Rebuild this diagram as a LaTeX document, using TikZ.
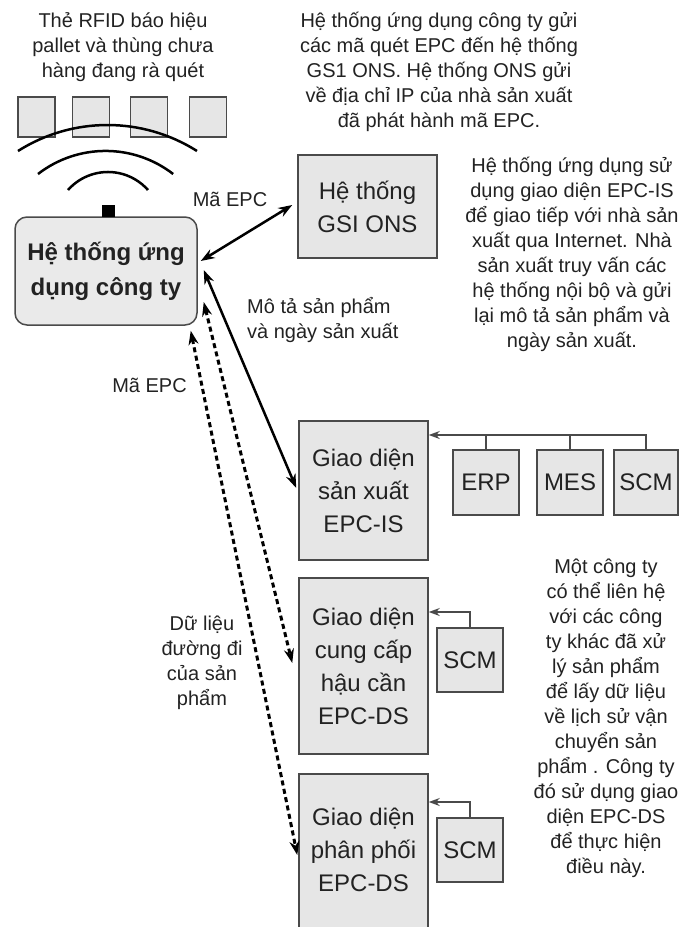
\documentclass[tikz,border=0pt]{standalone}
\usepackage{fontspec}
\setmainfont{Liberation Sans}
\usetikzlibrary{arrows.meta,calc}
\definecolor{boxfill}{HTML}{E6E6E6}
\definecolor{boxline}{HTML}{4A4A4A}
\definecolor{txt}{HTML}{222222}
\newcommand{\notefont}{\fontsize{20}{25}\selectfont}
\newcommand{\boxfont}{\fontsize{24}{33}\selectfont}
\newcommand{\mainboxfont}{\fontsize{24}{35}\selectfont\bfseries}
\begin{document}
\begin{tikzpicture}[x=1pt,y=-1pt,
  box/.style={draw=boxline, fill=boxfill, line width=1.5pt, align=center, inner sep=0pt, font=\boxfont, text=txt},
  tag/.style={draw=boxline, fill=boxfill, line width=1.3pt, inner sep=0pt, minimum width=37pt, minimum height=40pt},
  note/.style={align=center, font=\notefont, text=txt, inner sep=0pt},
  dbl/.style={{Stealth[length=14pt,width=10pt]}-{Stealth[length=14pt,width=10pt]}, line width=2.5pt, draw=black},
  dsh/.style={dbl, line width=3pt, dash pattern=on 5pt off 3.5pt},
  conn/.style={line width=1.4pt, draw=boxline},
  connarr/.style={conn, -{Stealth[length=11pt,width=8pt]}},
  wave/.style={line width=2.5pt, draw=black}
]
\useasboundingbox (0,0) rectangle (680,927);

% RFID tags
\node[tag] (tag1) at (36.5,117) {};
\node[tag] (tag2) at (91,117) {};
\node[tag] (tag3) at (149,117) {};
\node[tag] (tag4) at (208,117) {};

% waves
\draw[wave] (18,151) arc[start angle=-122.4, end angle=-57.6, radius=167];
\draw[wave] (38,174) arc[start angle=-127.7, end angle=-52.3, radius=110.5];
\draw[wave] (68,190) arc[start angle=-138.5, end angle=-41.5, radius=53.4];

% main box
\node[box, rounded corners=12pt, minimum width=182pt, minimum height=108pt, font=\mainboxfont, fill=boxfill!85!white] (main) at (106,271) {Hệ thống ứng\\dụng công ty};
\node[fill=black, inner sep=0pt, minimum width=13pt, minimum height=12pt] (ant) at (108.5,211) {};

% other boxes
\node[box, minimum width=139pt, minimum height=103pt] (gsi) at (367.5,206.5) {Hệ thống\\GSI ONS};
\node[box, minimum width=129pt, minimum height=139pt] (epcis) at (363.5,490.5) {Giao diện\\sản xuất\\EPC-IS};
\node[box, minimum width=129pt, minimum height=176pt] (log) at (363.5,666) {Giao diện\\cung cấp\\hậu cần\\EPC-DS};
\node[box, minimum width=129pt, minimum height=200pt] (dist) at (363.5,874) {};
\node[note, font=\boxfont] (distt) at (363.5,850) {Giao diện\\phân phối\\EPC-DS};

\node[box, minimum width=66pt, minimum height=65pt] (erp) at (486,482.5) {ERP};
\node[box, minimum width=66pt, minimum height=65pt] (mes) at (570,482.5) {MES};
\node[box, minimum width=64pt, minimum height=65pt] (scma) at (646,482.5) {SCM};
\node[box, minimum width=66pt, minimum height=64pt] (scmb) at (470,660) {SCM};
\node[box, minimum width=66pt, minimum height=64pt] (scmc) at (470,850) {SCM};

% system connectors
\coordinate (busR) at (646,435);
\draw[connarr] (scma.north) |- (epcis.east |- busR);
\draw[conn] (erp.north) -- (erp.north |- busR);
\draw[conn] (mes.north) -- (mes.north |- busR);
\coordinate (kb) at (470,612);
\draw[connarr] (scmb.north) -- (kb) -- (log.east |- kb);
\coordinate (kc) at (470,802);
\draw[connarr] (scmc.north) -- (kc) -- (dist.east |- kc);

% main arrows
\draw[dbl] ($(main.east)+(3,-10)$) -- ($(gsi.west)+(-5,-1.5)$);
\draw[dbl] ($(main.east)+(6,-1)$) -- ($(epcis.west)+(-2,-2.5)$);
\draw[dsh] ($(main.east)+(6,31)$) -- ($(log.west)+(-6,-3)$);
\draw[dsh] ($(main.south east)+(-7,5)$) -- ($(dist.west)+(-1,-19)$);

% notes
\node[note] (ntl) at (123,47) {Thẻ RFID báo hiệu\\pallet và thùng chưa\\hàng đang rà quét};
\node[note] (ntc) at (439,72) {Hệ thống ứng dụng công ty gửi\\các mã quét EPC đến hệ thống\\GS1 ONS. Hệ thống ONS gửi\\về địa chỉ IP của nhà sản xuất\\đã phát hành mã EPC.};
\node[note] (nr1) at (572,254) {Hệ thống ứng dụng sử\\dụng giao diện EPC-IS\\để giao tiếp với nhà sản\\xuất qua Internet. Nhà\\sản xuất truy vấn các\\hệ thống nội bộ và gửi\\lại mô tả sản phẩm và\\ngày sản xuất.};
\node[note] (nr2) at (606,718) {Một công ty\\có thể liên hệ\\với các công\\ty khác đã xử\\lý sản phẩm\\để lấy dữ liệu\\về lịch sử vận\\chuyển sản\\phẩm . Công ty\\đó sử dụng giao\\diện EPC-DS\\để thực hiện\\điều này.};

% labels
\node[note] (lbl1) at (230,199) {Mã EPC};
\node[note, align=left, anchor=west] (lbl2) at (247,320) {Mô tả sản phẩm\\và ngày sản xuất};
\node[note] (lbl3) at (149.5,385) {Mã EPC};
\node[note] (lbl4) at (202,662.5) {Dữ liệu\\đường đi\\của sản\\phẩm};
\end{tikzpicture}
\end{document}
